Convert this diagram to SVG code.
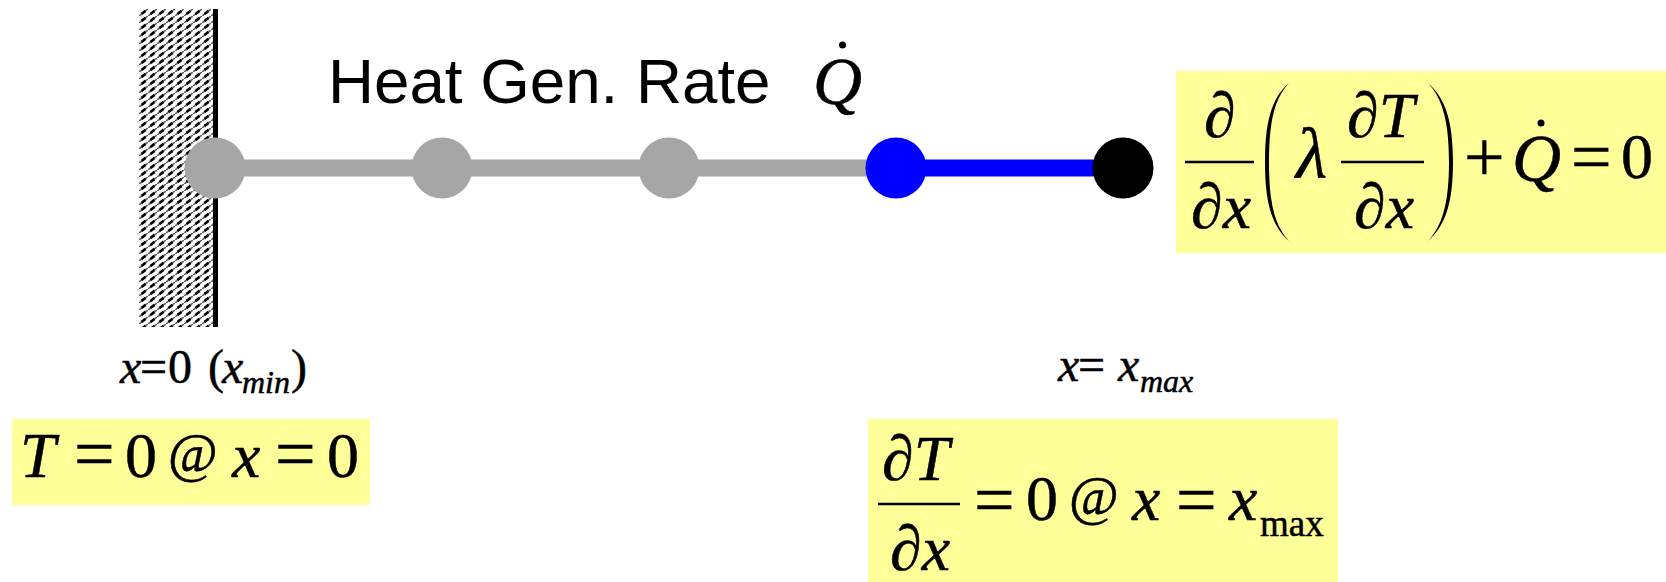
<svg xmlns="http://www.w3.org/2000/svg" width="1666" height="582" viewBox="0 0 1666 582">
<style>
.s{font-family:"Liberation Serif","Times New Roman",serif;fill:#000;stroke:#000;stroke-width:.5}
.i{font-style:italic}
.e{font-size:64px}
.o{font-size:72px}
.a{font-size:54px}
.q{font-size:68px}
.l{font-size:48px}
.b{font-size:32px}
.m{font-size:37px}
.h{font-family:"Liberation Sans",Arial,sans-serif;font-size:63.7px;fill:#000}
.y{fill:#ffff99}
.f{stroke:#000;stroke-width:2.5;fill:none}
.n{fill:#a6a6a6}
</style>
<defs>
<pattern id="hatch" x="139" y="9" width="9" height="7" patternUnits="userSpaceOnUse">
<rect width="9" height="7" fill="#fff"/>
<path d="M-1 7.8L10 -.8" stroke="#666" stroke-width="1.8"/>
<path d="M2.5 5L6.5 1.9" stroke="#000" stroke-width="2.6"/>
</pattern>
</defs>
<rect width="1666" height="582" fill="#fff"/>
<g id="wall">
<rect x="139" y="9" width="75" height="318" fill="url(#hatch)"/>
<rect x="213" y="9" width="5" height="318" fill="#000"/>
</g>
<g id="connectors">
<line x1="215" y1="168" x2="896" y2="168" stroke="#a6a6a6" stroke-width="17"/>
<line x1="896" y1="168" x2="1123" y2="168" stroke="#0000ff" stroke-width="17"/>
</g>
<g id="node1"><circle class="n" cx="215" cy="168" r="30.5"/></g>
<g id="node2"><circle class="n" cx="442" cy="168" r="30.5"/></g>
<g id="node3"><circle class="n" cx="669" cy="168" r="30.5"/></g>
<g id="node4"><circle cx="896" cy="168" r="30.5" fill="#0000ff"/></g>
<g id="node5"><circle cx="1123" cy="168" r="30.5" fill="#000"/></g>
<g id="heat-label">
<text class="h" x="328" y="102.5">Heat Gen. Rate</text>
<text class="s i q" x="813" y="104">Q</text>
<circle cx="842.5" cy="45" r="3.5"/>
</g>
<g id="eq-main">
<rect class="y" x="1176" y="71" width="490" height="182"/>
<text class="s e" x="1204" y="137">∂</text>
<line class="f" x1="1185" y1="162" x2="1254" y2="162"/>
<text class="s e" x="1191" y="228">∂<tspan class="i">x</tspan></text>
<path d="M1289 83C1272 98 1265 120 1265 162C1265 204 1272 226 1289 241C1275 226 1269 204 1269 162C1269 120 1275 98 1289 83Z"/>
<text class="s o i" x="1296" y="178">λ</text>
<text class="s e" x="1347" y="137">∂<tspan class="i">T</tspan></text>
<line class="f" x1="1341" y1="162" x2="1424" y2="162"/>
<text class="s e" x="1354" y="228">∂<tspan class="i">x</tspan></text>
<path d="M1428 83C1445 98 1453 120 1453 162C1453 204 1445 226 1428 241C1442 226 1449 204 1449 162C1449 120 1442 98 1428 83Z"/>
<text class="s o" x="1464" y="181">+</text>
<text class="s q i" x="1512" y="181">Q</text>
<circle cx="1541" cy="123" r="3.5"/>
<text class="s o" x="1571" y="181">=</text>
<text class="s e" x="1621" y="178">0</text>
</g>
<g id="x-min-label">
<text class="s l" y="383"><tspan class="i" x="120">x</tspan><tspan x="140">=</tspan><tspan x="168">0</tspan><tspan x="208">(</tspan><tspan class="i" x="222">x</tspan></text>
<text class="s b i" x="242" y="393">min</text>
<text class="s l" x="291" y="383">)</text>
</g>
<g id="x-max-label">
<text class="s l i" x="1058" y="381">x</text>
<text class="s l" x="1078" y="381">=</text>
<text class="s l i" x="1118" y="381">x</text>
<text class="s b i" x="1140" y="392">max</text>
</g>
<g id="bc-left">
<rect class="y" x="12" y="419" width="358" height="86"/>
<text class="s e i" x="20" y="477">T</text>
<text class="s o" x="74" y="478">=</text>
<text class="s e" x="125" y="477">0</text>
<text class="s a" x="168" y="471">@</text>
<text class="s e i" x="232" y="477">x</text>
<text class="s o" x="275" y="478">=</text>
<text class="s e" x="327" y="477">0</text>
</g>
<g id="bc-right">
<rect class="y" x="868" y="419" width="470" height="163"/>
<text class="s e" x="882" y="480">∂<tspan class="i">T</tspan></text>
<line class="f" x1="878" y1="504" x2="960" y2="504"/>
<text class="s e" x="890" y="570">∂<tspan class="i">x</tspan></text>
<text class="s o" x="974" y="524">=</text>
<text class="s e" x="1026" y="520">0</text>
<text class="s a" x="1069" y="514">@</text>
<text class="s e i" x="1132" y="520">x</text>
<text class="s o" x="1176" y="524">=</text>
<text class="s e i" x="1229" y="520">x</text>
<text class="s m" x="1260" y="536">max</text>
</g>
</svg>
